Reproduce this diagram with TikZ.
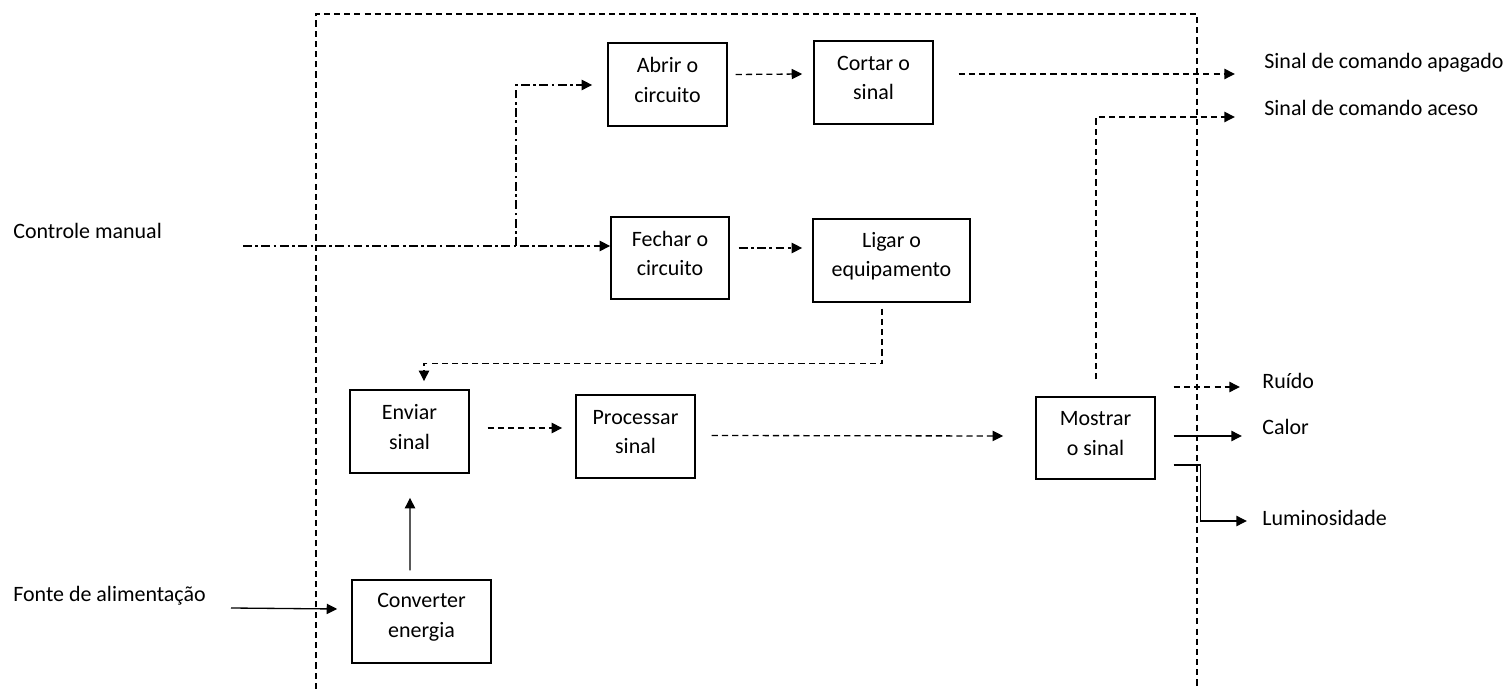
\documentclass[tikz,border=0pt]{standalone}
\usepackage{fontspec}
\setmainfont{Carlito}
\usetikzlibrary{arrows.meta}
\begin{document}
\begin{tikzpicture}[x=0.02cm,y=-0.02cm,
  txt/.style={font=\fontsize{12.5}{16.8}\selectfont},
  boxtxt/.style={txt,align=center,inner sep=0pt,yshift=2.5pt},
  box/.style={draw,line width=0.85pt,inner sep=0pt,minimum width=2.38cm,minimum height=1.66cm},
  lbl/.style={anchor=west,inner sep=0pt,txt},
  arr/.style={line width=0.75pt,-{Triangle[length=6pt,width=5.8pt]}},
  dsh/.style={dash pattern=on 3.5pt off 2.3pt},
  dd/.style={dash pattern=on 5pt off 2pt on 1.5pt off 2pt},
  bound/.style={line width=0.65pt,dash pattern=on 3.5pt off 2.3pt}]
\useasboundingbox (0,0) rectangle (1509,689);

% boundary
\draw[bound] (316,689) -- (316,14) -- (1197,14) -- (1197,689);

% boxes
\node[box,label={[boxtxt]center:{Abrir o\\circuito}}] (abrir) at (667.5,84.5) {};
\node[box,label={[boxtxt]center:{Cortar o\\sinal}}] (cortar) at (873.5,82.5) {};
\node[box,minimum width=2.36cm,minimum height=1.64cm,label={[boxtxt]center:{Fechar o\\circuito}}] (fechar) at (670,258) {};
\node[box,minimum width=3.14cm,label={[boxtxt]center:{Ligar o\\equipamento}}] (ligar) at (891.5,260.5) {};
\node[box,label={[boxtxt]center:{Enviar\\sinal}}] (enviar) at (409.5,431.5) {};
\node[box,label={[boxtxt]center:{Processar\\sinal}}] (processar) at (635.5,436.5) {};
\node[box,minimum height=1.64cm,label={[boxtxt]center:{Mostrar\\o sinal}}] (mostrar) at (1095.5,438) {};
\node[box,minimum width=2.78cm,label={[boxtxt]center:{Converter\\energia}}] (converter) at (421.5,621.5) {};

% labels
\node[lbl] (controle) at (13,231) {Controle manual};
\node[lbl] (fonte) at (13,596) {Fonte de alimentação};
\node[lbl] (apagado) at (1264,63) {Sinal de comando apagado};
\node[lbl] (aceso) at (1264,108) {Sinal de comando aceso};
\node[lbl] (ruido) at (1262,381) {Ruído};
\node[lbl] (calor) at (1262,427) {Calor};
\node[lbl] (lumi) at (1262,518) {Luminosidade};

% free ends
\coordinate (c0) at (243,246);
\coordinate (br) at (516,246);
\coordinate (f0) at (231,608);

% connectors
\draw[arr,dd] (c0) -- (c0 -| fechar.west);
\draw[arr,dd] (br) |- ([shift={(-15,0.5)}]abrir.west);
\draw[arr,dsh] ([shift={(8,-10)}]abrir.east) -- ([shift={(-11,-8.5)}]cortar.west);
\draw[arr,dsh] ([shift={(25,-8.5)}]cortar.east) -- ([shift={(-29,11)}]apagado.west);
\draw[arr,dd] ([shift={(9,-10)}]fechar.east) -- ([shift={(-10,-12.5)}]ligar.west);
\draw[arr,dsh] ([shift={(-9.5,6)}]ligar.south) -- ++(0,55) -| ([shift={(14.5,-8)}]enviar.north);
\draw[arr,dsh] ([shift={(18,-3.5)}]enviar.east) -- ([shift={(-13,-8.5)}]processar.west);
\draw[arr,dsh] ([shift={(16,-1)}]processar.east) -- ([shift={(-32,-2)}]mostrar.west);
\draw[arr] ([shift={(-11.5,-9)}]converter.north) -- ([shift={(0.5,24)}]enviar.south);
\draw[arr] (f0) -- ([shift={(-14,-12.5)}]converter.west);
\draw[arr,dsh] ([shift={(0.5,-17)}]mostrar.north) |- ([shift={(-29,9)}]aceso.west);
\draw[arr,dsh] ([shift={(18,-51)}]mostrar.east) -- ([shift={(-22,6)}]ruido.west);
\draw[arr] ([shift={(18,-2)}]mostrar.east) -- ([shift={(-20,9)}]calor.west);
\draw[arr] ([shift={(18,27)}]mostrar.east) -- ++(27,0) |- ([shift={(-15,3)}]lumi.west);
\end{tikzpicture}
\end{document}
